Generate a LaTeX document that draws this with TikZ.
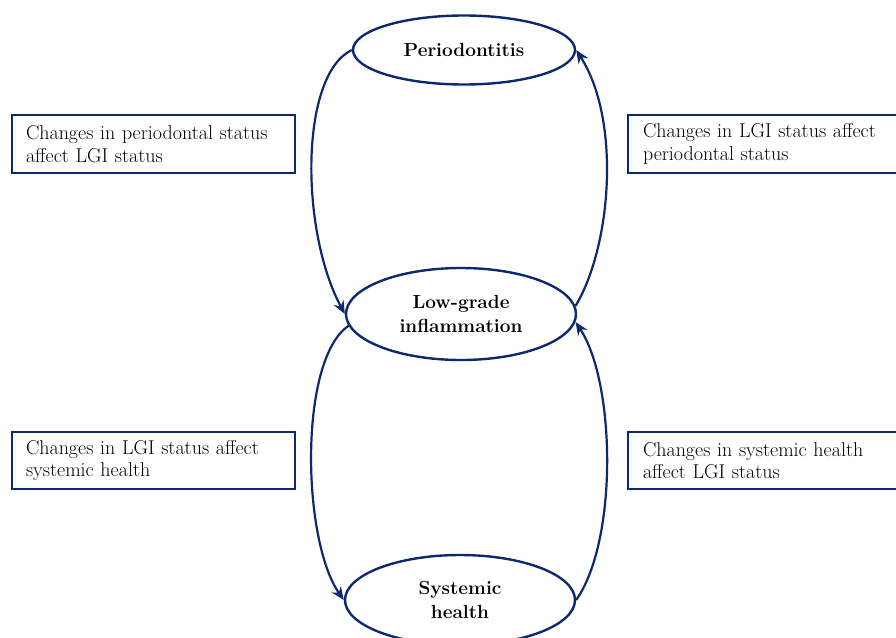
\documentclass[tikz,border=0pt]{standalone}
\usepackage{fontspec}
\usetikzlibrary{shapes.geometric,arrows.meta}
\definecolor{navy}{RGB}{12,40,110}
\tikzset{
  oval/.style={ellipse, draw=navy, line width=2.4pt, inner sep=0pt, align=center,
    font=\fontsize{19}{24}\selectfont\bfseries},
  infobox/.style={rectangle, draw=navy, line width=2pt, anchor=north west,
    minimum width=283pt, minimum height=58pt, inner xsep=14pt, inner ysep=0pt,
    text width=255pt, align=left, font=\fontsize{20}{22.5}\selectfont},
  arr/.style={draw=navy, line width=2.2pt, -{Stealth[length=13pt,width=11pt]}}
}
\begin{document}
\begin{tikzpicture}[x=1pt,y=-1pt]
\useasboundingbox (0,0) rectangle (896,637);
\node[oval, minimum width=222pt, minimum height=69pt] (P) at (464,50) {Periodontitis};
\node[oval, minimum width=230pt, minimum height=92pt] (L) at (461,314) {Low-grade\\inflammation};
\node[oval, minimum width=230pt, minimum height=90pt] (S) at (460,600) {Systemic\\health};
\node[infobox] (B1) at (11,114) {Changes in periodontal status\\affect LGI status};
\node[infobox, inner xsep=15pt] (B2) at (627,114) {Changes in LGI status affect\\periodontal status};
\node[infobox, minimum height=57pt] (B3) at (11,431) {Changes in LGI status affect\\systemic health};
\node[infobox, minimum height=57pt, inner xsep=15pt] (B4) at (627,431) {Changes in systemic health\\affect LGI status};
\draw[arr] (P.west) .. controls +(-52,25) and +(-45,-84) .. (L.west);
\draw[arr] (L.4) .. controls +(36,-60) and +(45,70) .. (P.east);
\draw[arr] (L.186) .. controls +(-50,34) and +(-42,-60) .. (S.west);
\draw[arr] (S.east) .. controls +(42,-60) and +(40,60) .. (L.356);
\end{tikzpicture}
\end{document}
